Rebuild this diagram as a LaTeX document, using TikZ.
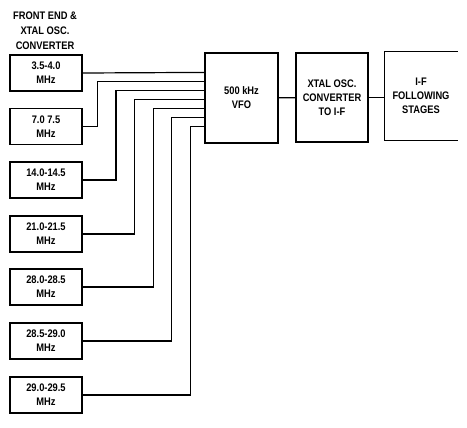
\documentclass[tikz,border=0pt]{standalone}
\usepackage{fontspec}
\setmainfont{Liberation Sans}[FakeStretch=0.85]
\usepackage{tikz}
\usetikzlibrary{positioning,calc}
\tikzset{
  band/.style={draw, line width=1.2pt, minimum width=72bp, minimum height=36bp,
               inner sep=1pt, align=center, font=\bfseries\fontsize{11}{14}\selectfont},
  stage/.style={band, minimum width=73bp, minimum height=90bp},
  openstage/.style={stage, draw=none},
  hdr/.style={align=center, font=\bfseries\fontsize{11}{15}\selectfont},
  wire/.style={line width=1.2pt}
}

\begin{document}
\begin{tikzpicture}[x=1bp, y=-1bp]
\useasboundingbox (0,0) rectangle (467,427);
\node (head) [hdr] at (45,31) {FRONT END \&\\XTAL OSC.\\CONVERTER};
\node (b1) [band] at (46,73) {3.5-4.0\\MHz};
\node (b2) [band] at (46,126.5) {7.0 7.5\\MHz};
\node (b3) [band] at (46,180) {14.0-14.5\\MHz};
\node (b4) [band] at (46,234) {21.0-21.5\\MHz};
\node (b5) [band] at (46,287) {28.0-28.5\\MHz};
\node (b6) [band] at (46,341) {28.5-29.0\\MHz};
\node (b7) [band] at (46,395) {29.0-29.5\\MHz};
\node (vfo) [stage] at (241.5,98) {500 kHz\\VFO};
\node (xtal) [stage, minimum width=72bp, minimum height=89bp] at (332,97.5) {XTAL OSC.\\CONVERTER\\TO I-F};
\node (ifs) [openstage, minimum width=72bp, minimum height=88bp] at (421,96) {I-F\\FOLLOWING\\STAGES};
\draw [wire] (ifs.north east) -- (ifs.north west) -- (ifs.south west) -- (ifs.south east);
% band inputs into the vfo
\foreach \k in {1,...,7}
  \coordinate (in\k) at ($(vfo.north west)+(0,{11+9*\k})$);
\draw [wire] (b1.east) -- (in1);
\foreach \k in {2,...,7}
  \draw [wire] (b\k.east) -| ($(in\k)+({-14-18.6*(7-\k)},0)$) -- (in\k);
\draw [wire] (vfo) -- (xtal);
\draw [wire] (xtal.east) -- (xtal.east -| ifs.west);
\end{tikzpicture}
\end{document}
